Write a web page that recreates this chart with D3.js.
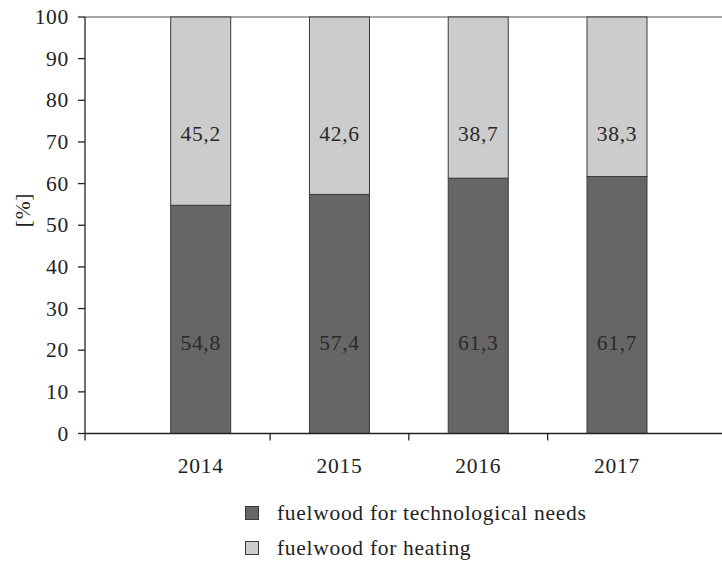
<!DOCTYPE html>
<html>
<head>
<meta charset="utf-8">
<script src="https://cdn.jsdelivr.net/npm/d3@7/dist/d3.min.js"></script>
<style>
  html, body { margin: 0; padding: 0; background: #fff; }
  svg { display: block; }
</style>
</head>
<body>
<div id="chart"></div>
<script>
// Fuelwood use by purpose, share in %
const years = ["2014", "2015", "2016", "2017"];
const technological = [54.8, 57.4, 61.3, 61.7];
const heating = [45.2, 42.6, 38.7, 38.3];
const yTicks = [0, 10, 20, 30, 40, 50, 60, 70, 80, 90, 100];
const seriesNames = ["fuelwood for technological needs", "fuelwood for heating"];

const W = 722, H = 563;
const colors = ["#666666", "#cccccc"];
const stroke = "#3a3a3a";
const FS = 21.5;

const svg = d3.select("#chart").append("svg").attr("width", W).attr("height", H);

const plot = { left: 85, right: 722, top: 17, bottom: 433.5 };

const y = d3.scaleLinear().domain([0, 100]).range([plot.bottom, plot.top]);
const x = d3.scalePoint().domain(years).range([200.7, 617]);
const barW = 60;

function label(g, txt, px, py, anchor) {
  return g.append("text")
    .attr("x", px).attr("y", py)
    .attr("text-anchor", anchor)
    .style("font-family", "'Liberation Serif', serif")
    .style("font-size", FS + "px")
    .style("letter-spacing", "0.7px")
    .style("fill", "#222")
    .text(txt);
}

// top frame line
svg.append("line")
  .attr("x1", plot.left).attr("x2", plot.right)
  .attr("y1", y(100)).attr("y2", y(100))
  .attr("stroke", "#8a8a8a").attr("stroke-width", 1.5);

// stacked bars
const stacks = years.map((yr, i) => ({ year: yr, parts: [
  { y0: 0, y1: technological[i], c: colors[0] },
  { y0: technological[i], y1: technological[i] + heating[i], c: colors[1] }
]}));

const barG = svg.append("g");
stacks.forEach(s => {
  s.parts.forEach(p => {
    barG.append("rect")
      .attr("x", x(s.year) - barW / 2)
      .attr("width", barW)
      .attr("y", y(p.y1))
      .attr("height", y(p.y0) - y(p.y1))
      .attr("fill", p.c)
      .attr("stroke", stroke)
      .attr("stroke-width", 1);
  });
});

// value labels
const labG = svg.append("g");
const fmt = v => v.toFixed(1).replace(".", ",");
years.forEach((yr, i) => {
  label(labG, fmt(heating[i]), x(yr), y(72) + 7, "middle").style("fill", "#2a2a2a");
  label(labG, fmt(technological[i]), x(yr), y(21.8) + 7, "middle").style("fill", "#2a2a2a");
});

// y axis
const axG = svg.append("g");
axG.append("line")
  .attr("x1", plot.left).attr("x2", plot.left)
  .attr("y1", plot.top).attr("y2", plot.bottom + 7)
  .attr("stroke", "#222").attr("stroke-width", 1.3);
yTicks.forEach(t => {
  axG.append("line")
    .attr("x1", plot.left - 7).attr("x2", plot.left)
    .attr("y1", y(t)).attr("y2", y(t))
    .attr("stroke", "#222").attr("stroke-width", 1.3);
  label(axG, t, 69, y(t) + 7, "end");
});
label(axG, "[%]", 0, 0, "middle")
  .attr("x", null).attr("y", null)
  .attr("transform", "translate(30,210) rotate(-90)");

// x axis
axG.append("line")
  .attr("x1", plot.left).attr("x2", plot.right)
  .attr("y1", plot.bottom).attr("y2", plot.bottom)
  .attr("stroke", "#222").attr("stroke-width", 1.3);
const xs = years.map(d => x(d));
const bounds = xs.slice(1).map((v, i) => (v + xs[i]) / 2);
bounds.forEach(b => {
  axG.append("line")
    .attr("x1", b).attr("x2", b)
    .attr("y1", plot.bottom).attr("y2", plot.bottom + 7)
    .attr("stroke", "#222").attr("stroke-width", 1.3);
});
years.forEach(yr => label(axG, yr, x(yr), 473, "middle"));

// legend
const lg = svg.append("g");
seriesNames.forEach((n, i) => {
  const cy = 513 + i * 35;
  lg.append("rect")
    .attr("x", 245.5).attr("y", cy - 6.5)
    .attr("width", 13).attr("height", 13)
    .attr("fill", colors[i]).attr("stroke", stroke).attr("stroke-width", 1);
  label(lg, n, 277, cy + 7, "start");
});
</script>
</body>
</html>
